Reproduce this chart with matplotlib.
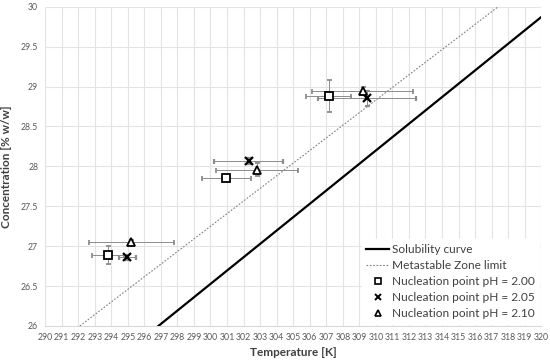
import matplotlib
matplotlib.use("Agg")
import matplotlib.pyplot as plt
from matplotlib.lines import Line2D
from matplotlib.ticker import MultipleLocator, FuncFormatter

plt.rcParams['font.family'] = ['Lato', 'DejaVu Sans']

# solubility curve and metastable zone limit (end points)
sol_T = [296.85, 320.0]
sol_C = [26.0, 29.87]
msz_T = [292.1, 317.4]
msz_C = [26.0, 30.0]

# nucleation points
ph200_T = [293.8, 300.95, 307.15]
ph200_C = [26.89, 27.86, 28.88]
ph200_xerr = [0.95, 1.48, 1.35]
ph200_yerr = [0.11, 0.03, 0.2]

ph205_T = [294.98, 302.3, 309.45]
ph205_C = [26.86, 28.07, 28.85]
ph205_xerr = [0.52, 2.07, 2.95]
ph205_yerr = [0.03, 0.04, 0.1]

ph210_T = [295.22, 302.8, 309.2]
ph210_C = [27.05, 27.96, 28.95]
ph210_xerr = [2.58, 2.47, 3.05]
ph210_yerr = [0.03, 0.08, 0.05]

labels = ["Solubility curve", "Metastable Zone limit", "Nucleation point pH = 2.00",
          "Nucleation point pH = 2.05", "Nucleation point pH = 2.10"]

fig = plt.figure(figsize=(5.5, 3.62), dpi=100)
ax = fig.add_axes([0.082, 0.0995, 0.902, 0.882])

msz_style = dict(color="#7f7f7f", lw=0.8, ls=(0, (1.5, 1.5)))
ax.plot(sol_T, sol_C, color="black", lw=1.6, zorder=3)
ax.plot(msz_T, msz_C, zorder=3, **msz_style)

ebar = dict(ls="none", ecolor="#8c8c8c", elinewidth=0.7, capsize=1.8, capthick=0.7, zorder=4)
sq = dict(marker="s", ms=5.5, mfc="white", mec="black", mew=1.3)
xx = dict(marker="x", ms=5.5, mec="black", mew=1.6)
tri = dict(marker="^", ms=5.5, mfc="white", mec="black", mew=1.3)
ax.errorbar(ph200_T, ph200_C, xerr=ph200_xerr, yerr=ph200_yerr, **sq, **ebar)
ax.errorbar(ph205_T, ph205_C, xerr=ph205_xerr, yerr=ph205_yerr, **xx, **ebar)
ax.errorbar(ph210_T, ph210_C, xerr=ph210_xerr, yerr=ph210_yerr, **tri, **ebar)

ax.set_xlim(290, 320)
ax.set_ylim(26, 30)
ax.xaxis.set_major_locator(MultipleLocator(1))
ax.yaxis.set_major_locator(MultipleLocator(0.5))
ax.yaxis.set_major_formatter(FuncFormatter(lambda v, p: "%g" % v))
ax.grid(True, color="#e3e3e3", lw=0.8, zorder=0)
ax.set_axisbelow(True)
for s in ["top", "right", "left"]:
    ax.spines[s].set_visible(False)
ax.spines["bottom"].set_color("#d9d9d9")
ax.tick_params(length=0, labelsize=6.3, colors="#595959", pad=5)

ax.set_xlabel("Temperature [K]", fontsize=8.5, fontweight="bold", color="#404040", labelpad=4)
ax.set_ylabel("Concentration [% w/w]", fontsize=8.5, fontweight="bold", color="#404040", labelpad=6)

handles = [
    Line2D([], [], color="black", lw=1.6),
    Line2D([], [], **msz_style),
    Line2D([], [], ls="none", **dict(sq, ms=4.5, mew=1.2)),
    Line2D([], [], ls="none", **dict(xx, ms=4.5, mew=1.4)),
    Line2D([], [], ls="none", **dict(tri, ms=4.5, mew=1.2)),
]
leg = ax.legend(handles, labels, loc="lower right", bbox_to_anchor=(1.008, -0.012), fontsize=8.6,
                frameon=True, fancybox=False, framealpha=1, edgecolor="white",
                handlelength=1.9, handletextpad=0.2, labelspacing=0.42, borderpad=0.4)
for t in leg.get_texts():
    t.set_color("#404040")

fig.savefig("out.png", dpi=100)
